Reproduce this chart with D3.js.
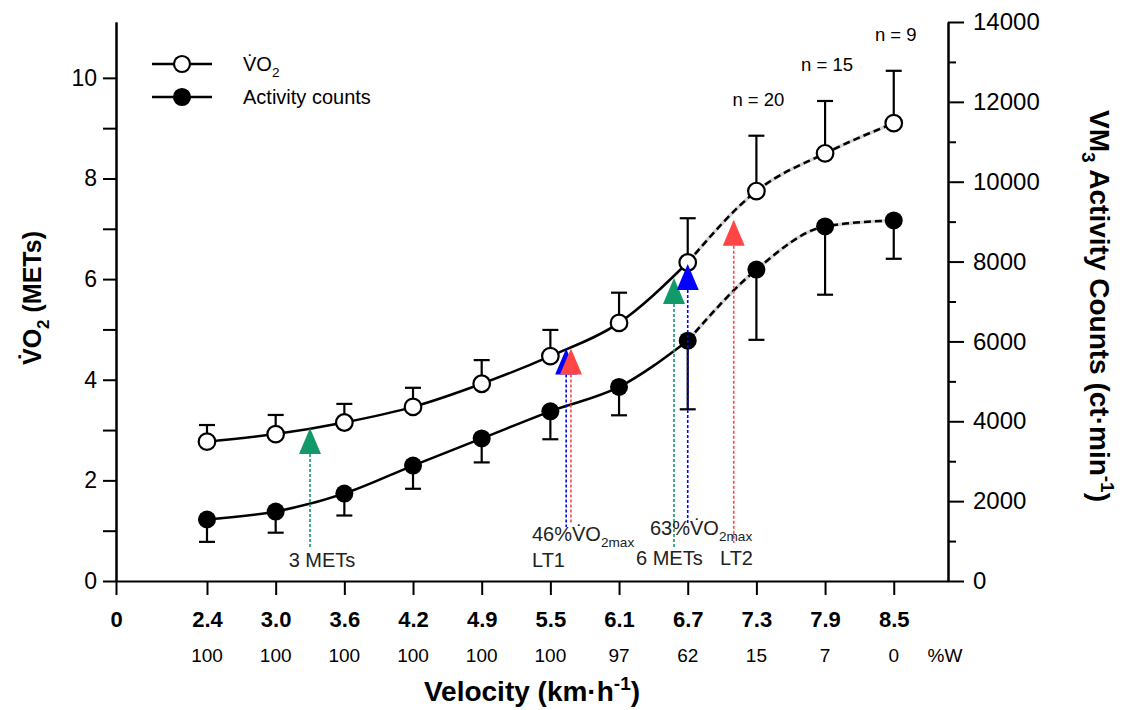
<!DOCTYPE html>
<html>
<head>
<meta charset="utf-8">
<script src="https://cdn.jsdelivr.net/npm/d3@7"></script>
<style>
  html, body { margin: 0; padding: 0; background: #fff; }
  svg { display: block; font-family: "Liberation Sans", Arial, sans-serif; }
</style>
</head>
<body>
<svg id="chart" width="1123" height="710"></svg>
<script>
// ---------------- data ----------------
const velocities = ["2.4", "3.0", "3.6", "4.2", "4.9", "5.5", "6.1", "6.7", "7.3", "7.9", "8.5"];
const pctWalking = ["100", "100", "100", "100", "100", "100", "97", "62", "15", "7", "0"];
const vo2Mean = [2.77, 2.92, 3.15, 3.46, 3.92, 4.47, 5.13, 6.33, 7.75, 8.50, 9.10];
const vo2SD = [0.33, 0.38, 0.37, 0.38, 0.47, 0.52, 0.60, 0.88, 1.10, 1.04, 1.04];
const countsMean = [1540, 1740, 2190, 2890, 3570, 4250, 4860, 6020, 7800, 8880, 9030];
const countsSD = [560, 530, 550, 580, 600, 700, 710, 1720, 1760, 1710, 960];
const sampleSizes = ["n = 20", "n = 15", "n = 9"];
const sampleStages = [8, 9, 10];
const leftTicks = [0, 2, 4, 6, 8, 10];
const leftMinor = [1, 3, 5, 7, 9];
const rightTicks = [0, 2000, 4000, 6000, 8000, 10000, 12000, 14000];
const rightMinor = [1000, 3000, 5000, 7000, 9000, 11000, 13000];
// thresholds: stage position (fractional stage index), VO2 in METs at the marker tip
const thresholdNames = ["3 METs", "46%VO2max", "LT1", "6 METs", "63%VO2max", "LT2"];
const thresholdStage = [1.50, 5.23, 5.30, 6.80, 7.00, 7.67];
const thresholdMets = [3.04, 4.62, 4.62, 6.02, 6.30, 7.18];
const thresholdKind = ["mets", "vo2max", "lt", "mets", "vo2max", "lt"];

const colors = { mets: "#12996a", vo2max: "#0000ff", lt: "#ff4545" };

// ---------------- layout ----------------
const svg = d3.select("#chart");
const plotL = 116, plotR = 948, plotB = 581, plotT = 22;
const zeroStage = -1.325; // position of the "0" tick on the stage axis

const x = d3.scaleLinear().domain([zeroStage, 10.79]).range([plotL, plotR]);
const yL = d3.scaleLinear().domain([0, 11.11]).range([plotB, plotT]);
const yR = d3.scaleLinear().domain([0, 14000]).range([plotB, plotT]);

function rich(textSel, parts, size) {
  let shift = 0;
  parts.forEach(p => {
    const ts = textSel.append("tspan").text(p.t);
    let target = 0;
    if (p.sub) target = size * 0.3;
    if (p.sup) target = -size * 0.4;
    if (target !== shift) { ts.attr("dy", target - shift); shift = target; }
    if (p.sub || p.sup) ts.attr("font-size", size * 0.68);
  });
}

// ---------------- axes ----------------
const axisStyle = g => {
  g.selectAll("path, line").attr("stroke", "#000").attr("stroke-width", 2);
  g.selectAll("text").attr("fill", "#000");
};

// left axis
svg.append("g").attr("transform", `translate(${plotL},0)`)
  .call(d3.axisLeft(yL).tickValues(leftMinor).tickSize(13).tickSizeOuter(0).tickFormat(""))
  .call(axisStyle);
svg.append("g").attr("transform", `translate(${plotL},0)`)
  .call(d3.axisLeft(yL).tickValues(leftTicks).tickSize(13).tickPadding(6).tickSizeOuter(0).tickFormat(d3.format("d")))
  .call(axisStyle)
  .call(g => g.selectAll("text").attr("font-size", 23).attr("font-family", "Liberation Sans, Arial, sans-serif"));

// right axis
svg.append("g").attr("transform", `translate(${plotR},0)`)
  .call(d3.axisRight(yR).tickValues(rightMinor).tickSize(8).tickSizeOuter(0).tickFormat(""))
  .call(axisStyle);
svg.append("g").attr("transform", `translate(${plotR},0)`)
  .call(d3.axisRight(yR).tickValues(rightTicks).tickSize(16).tickPadding(9).tickSizeOuter(0).tickFormat(d3.format("d")))
  .call(axisStyle)
  .call(g => g.selectAll("text").attr("font-size", 24).attr("font-family", "Liberation Sans, Arial, sans-serif"));

// bottom axis
const stageTicks = [zeroStage].concat(velocities.map((v, i) => i));
const stageLabels = ["0"].concat(velocities);
svg.append("g").attr("transform", `translate(0,${plotB})`)
  .call(d3.axisBottom(x).tickValues(stageTicks).tickSize(14).tickPadding(16).tickSizeOuter(0)
    .tickFormat((d, i) => stageLabels[i]))
  .call(axisStyle)
  .call(g => g.selectAll("text").attr("font-size", 22).attr("font-weight", "bold")
    .attr("font-family", "Liberation Sans, Arial, sans-serif"));

// %W row
svg.append("g").selectAll("text").data(pctWalking).join("text")
  .attr("x", (d, i) => x(i)).attr("y", 662)
  .attr("text-anchor", "middle").attr("font-size", 19).text(d => d);
svg.append("text").attr("x", 945).attr("y", 662).attr("text-anchor", "middle")
  .attr("font-size", 19).text("%W");

// axis titles
const xt = svg.append("text").attr("x", 532).attr("y", 701).attr("text-anchor", "middle")
  .attr("font-size", 28).attr("font-weight", "bold");
rich(xt, [{ t: "Velocity (km·h" }, { t: "-1", sup: true }, { t: ")" }], 28);

const ltt = svg.append("text").attr("transform", "translate(41,298) rotate(-90)")
  .attr("text-anchor", "middle").attr("font-size", 25).attr("font-weight", "bold");
rich(ltt, [{ t: "V\u0307O" }, { t: "2", sub: true }, { t: " (METs)" }], 25);

const rtt = svg.append("text").attr("transform", "translate(1090,306) rotate(90)")
  .attr("text-anchor", "middle").attr("font-size", 28).attr("font-weight", "bold");
rich(rtt, [{ t: "VM" }, { t: "3", sub: true }, { t: " Activity Counts (ct·min" }, { t: "-1", sup: true }, { t: ")" }], 28);

// ---------------- lines ----------------
const idx = velocities.map((v, i) => i);
const vo2Line = d3.line().x(i => x(i)).y(i => yL(vo2Mean[i])).curve(d3.curveMonotoneX);
const cntLine = d3.line().x(i => x(i)).y(i => yR(countsMean[i])).curve(d3.curveMonotoneX);
const solidIdx = idx.slice(0, 8), dashIdx = idx.slice(7);

[vo2Line, cntLine].forEach(ln => {
  svg.append("path").attr("d", ln(solidIdx)).attr("fill", "none").attr("stroke", "#000").attr("stroke-width", 2.5);
  svg.append("path").attr("d", ln(dashIdx)).attr("fill", "none").attr("stroke", "#d4d4d4").attr("stroke-width", 3.5);
  svg.append("path").attr("d", ln(dashIdx)).attr("fill", "none").attr("stroke", "#000").attr("stroke-width", 2.5)
    .attr("stroke-dasharray", "7,4");
});

// ---------------- error bars ----------------
const capW = 8;
const eb = svg.append("g").attr("stroke", "#000").attr("stroke-width", 2.2);
idx.forEach(i => {
  const xi = x(i);
  const yTop = yL(vo2Mean[i] + vo2SD[i]);
  eb.append("line").attr("x1", xi).attr("x2", xi).attr("y1", yL(vo2Mean[i])).attr("y2", yTop);
  eb.append("line").attr("x1", xi - capW).attr("x2", xi + capW).attr("y1", yTop).attr("y2", yTop);
  const yBot = yR(countsMean[i] - countsSD[i]);
  eb.append("line").attr("x1", xi).attr("x2", xi).attr("y1", yR(countsMean[i])).attr("y2", yBot);
  eb.append("line").attr("x1", xi - capW).attr("x2", xi + capW).attr("y1", yBot).attr("y2", yBot);
});

// ---------------- markers ----------------
svg.append("g").selectAll("circle").data(idx).join("circle")
  .attr("cx", i => x(i)).attr("cy", i => yR(countsMean[i])).attr("r", 9).attr("fill", "#000");
svg.append("g").selectAll("circle").data(idx).join("circle")
  .attr("cx", i => x(i)).attr("cy", i => yL(vo2Mean[i])).attr("r", 8.3).attr("fill", "#fff")
  .attr("stroke", "#000").attr("stroke-width", 2.2);

// sample size labels
svg.append("g").selectAll("text").data(sampleStages).join("text")
  .attr("x", d => x(d) + 2).attr("y", d => yL(vo2Mean[d] + vo2SD[d]) - 30)
  .attr("text-anchor", "middle").attr("font-size", 18.5).text((d, i) => sampleSizes[i]);

// ---------------- thresholds ----------------
const triW = 22, triH = 26;
const lineEnd = { "3 METs": 548, "46%VO2max": 527, "LT1": 523, "6 METs": 547, "63%VO2max": 523, "LT2": 543 };
const thr = svg.append("g");
thresholdNames.forEach((name, k) => {
  const cx = x(thresholdStage[k]);
  const tip = yL(thresholdMets[k]);
  const col = colors[thresholdKind[k]];
  thr.append("line").attr("x1", cx).attr("x2", cx).attr("y1", tip + triH).attr("y2", lineEnd[name])
    .attr("stroke", col).attr("stroke-width", 1.6).attr("stroke-dasharray", "3,2");
});
thresholdNames.forEach((name, k) => {
  const cx = x(thresholdStage[k]);
  const tip = yL(thresholdMets[k]);
  const col = colors[thresholdKind[k]];
  thr.append("path").attr("d", `M${cx},${tip}L${cx + triW / 2},${tip + triH}L${cx - triW / 2},${tip + triH}Z`)
    .attr("fill", col);
});

// threshold labels
const labelFont = 20;
const tl = svg.append("g").attr("font-size", labelFont).attr("fill", "#222");
tl.append("text").attr("x", 322).attr("y", 567).attr("text-anchor", "middle").text("3 METs");
rich(tl.append("text").attr("x", 532).attr("y", 541),
  [{ t: "46%V\u0307O" }, { t: "2max", sub: true }], labelFont);
tl.append("text").attr("x", 532).attr("y", 567).text("LT1");
rich(tl.append("text").attr("x", 650).attr("y", 535),
  [{ t: "63%V\u0307O" }, { t: "2max", sub: true }], labelFont);
tl.append("text").attr("x", 636).attr("y", 565).text("6 METs");
tl.append("text").attr("x", 720).attr("y", 565).text("LT2");

// ---------------- legend ----------------
const lg = svg.append("g");
[{ y: 64, filled: false }, { y: 97, filled: true }].forEach((r, k) => {
  lg.append("line").attr("x1", 152).attr("x2", 212).attr("y1", r.y).attr("y2", r.y)
    .attr("stroke", "#000").attr("stroke-width", 2.5);
  lg.append("circle").attr("cx", 182).attr("cy", r.y).attr("r", 8)
    .attr("fill", r.filled ? "#000" : "#fff").attr("stroke", "#000").attr("stroke-width", 2.2);
});
rich(lg.append("text").attr("x", 243).attr("y", 71).attr("font-size", 20),
  [{ t: "V\u0307O" }, { t: "2", sub: true }], 20);
lg.append("text").attr("x", 243).attr("y", 104).attr("font-size", 20).text("Activity counts");
</script>
</body>
</html>
